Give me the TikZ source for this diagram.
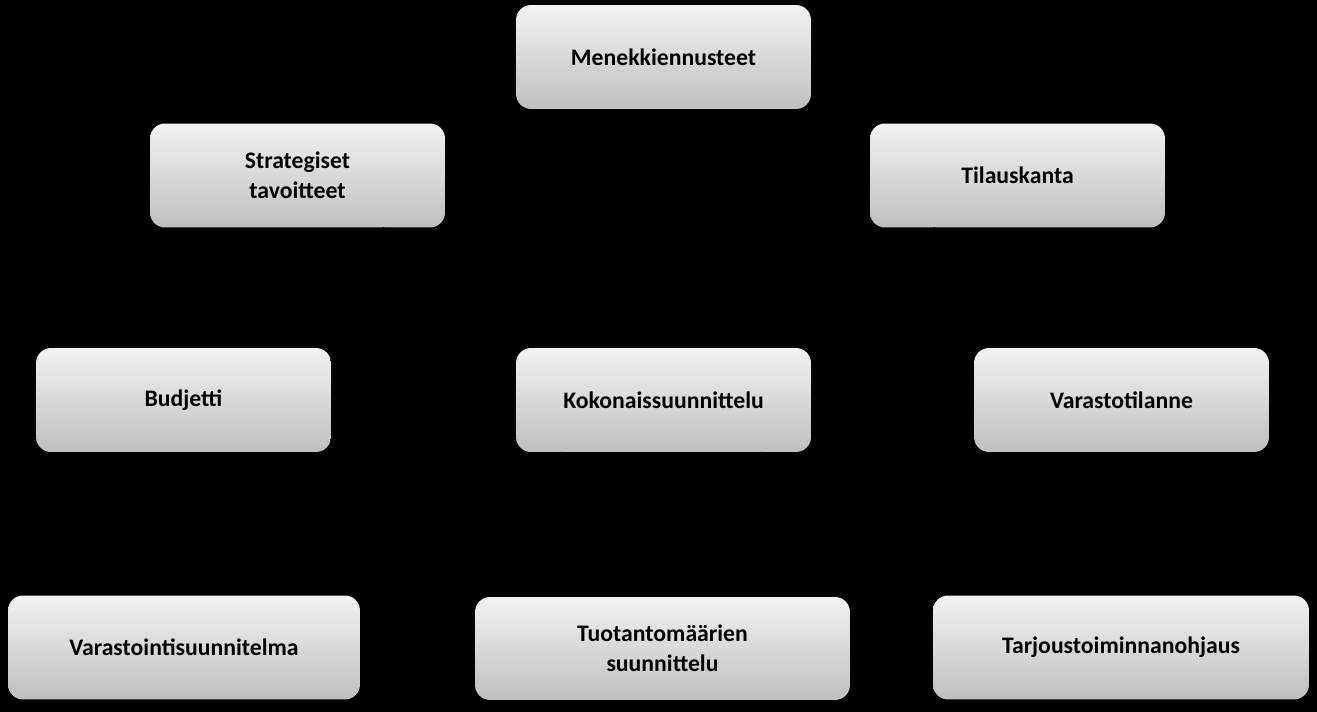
\documentclass[tikz,border=0pt]{standalone}
\usepackage{fontspec}
\setmainfont{Carlito}
\usetikzlibrary{arrows.meta}
\begin{document}
\begin{tikzpicture}[x=0.02cm,y=-0.02cm,
  box/.style={rounded corners=0.3cm,top color=gray!10,bottom color=gray!50,draw=none,
    minimum height=2.08cm,align=center,font=\fontsize{13.5}{17}\selectfont\bfseries,text=black},
  conn/.style={draw=black,-{Latex[length=8pt]},line width=1pt}]
\fill[black] (0,0) rectangle (1317,712);
\useasboundingbox (0,0) rectangle (1317,712);
\node[box,minimum width=5.9cm] (men) at (663.5,57) {Menekkiennusteet};
\node[box,minimum width=5.9cm] (str) at (297.5,175.5) {Strategiset\\tavoitteet};
\node[box,minimum width=5.9cm] (til) at (1017.5,175.5) {Tilauskanta};
\node[box,minimum width=5.9cm] (bud) at (183.5,400) {Budjetti};
\node[box,minimum width=5.9cm] (kok) at (663.5,400) {Kokonaissuunnittelu};
\node[box,minimum width=5.9cm] (var) at (1121.5,400) {Varastotilanne};
\node[box,minimum width=7.04cm] (vsu) at (184,647.5) {Varastointisuunnitelma};
\node[box,minimum width=7.5cm,minimum height=2.06cm] (tuo) at (662.5,648.5) {Tuotantomäärien\\suunnittelu};
\node[box,minimum width=7.52cm] (tar) at (1121,647.5) {Tarjoustoiminnanohjaus};
\draw[conn] (men) -- (kok);
\draw[conn] (str) -- (kok);
\draw[conn] (til) -- (kok);
\draw[conn] (bud) -- (kok);
\draw[conn] (var) -- (kok);
\draw[conn] (kok) -- (vsu);
\draw[conn] (kok) -- (tuo);
\draw[conn] (kok) -- (tar);
\end{tikzpicture}
\end{document}
